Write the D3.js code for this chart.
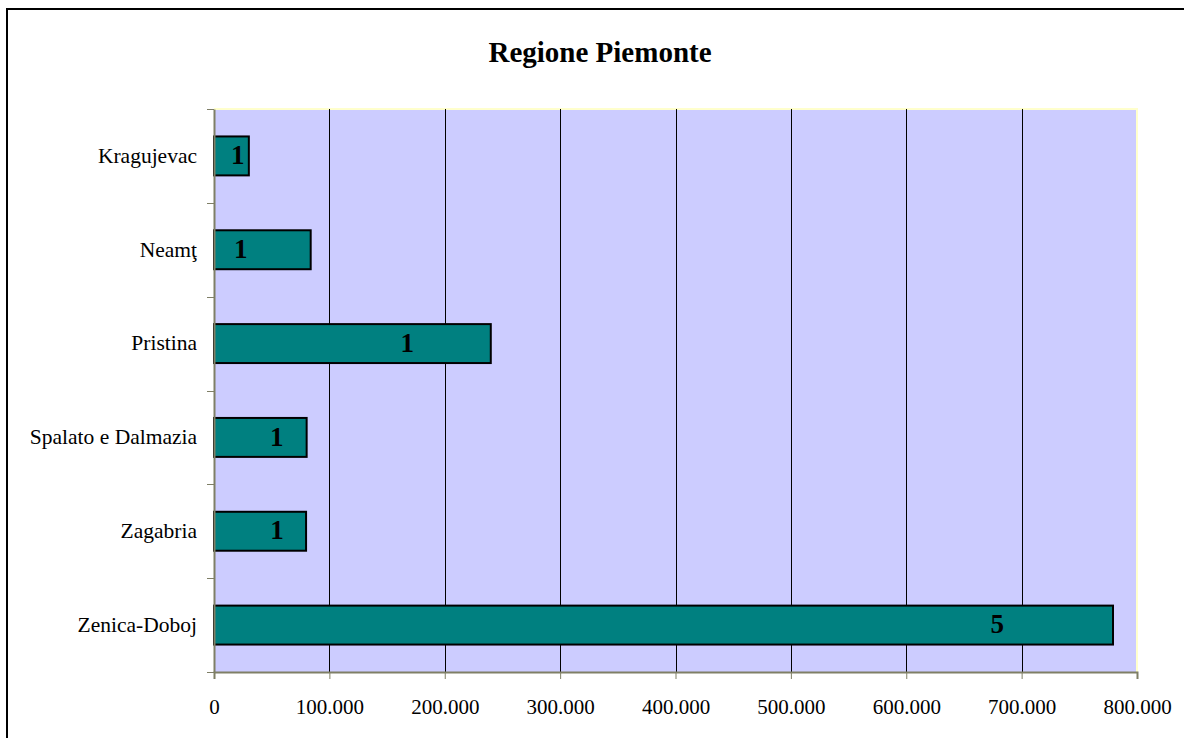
<!DOCTYPE html>
<html>
<head>
<meta charset="utf-8">
<script src="https://cdn.jsdelivr.net/npm/d3@7"></script>
<style>
  body { margin: 0; background: #fff; }
  text { font-family: "Liberation Serif", "Times New Roman", serif; }
</style>
</head>
<body>
<div id="svgWrapper"></div>
<script>
"use strict"
// data
const chartTitle = "Regione Piemonte";
const categories = ["Kragujevac", "Neamţ", "Pristina", "Spalato e Dalmazia", "Zagabria", "Zenica-Doboj"];
const amounts = [30200, 83800, 239900, 80300, 79800, 779200];
const counts = [1, 1, 1, 1, 1, 5];
// where the count labels sit along the value axis
const labelAt = [20500, 23100, 167600, 54400, 54600, 678900];
const xTicks = [0, 100000, 200000, 300000, 400000, 500000, 600000, 700000, 800000];

function draw() {
    var fullWidth = 1184;
    var fullHeight = 738;
    var svg = d3.select("#svgWrapper").append("svg")
        .attr("width", fullWidth).attr("height", fullHeight);

    var left = 214, right = 1137, top = 109, bottom = 672;

    // outer frame
    svg.append("rect")
        .attr("x", 7).attr("y", 9).attr("width", 1300).attr("height", 900)
        .attr("fill", "#fff").attr("stroke", "#000").attr("stroke-width", 2);

    svg.append("text")
        .attr("x", 600).attr("y", 62)
        .attr("text-anchor", "middle")
        .attr("font-weight", "bold")
        .attr("font-size", 29)
        .text(chartTitle);

    var x = d3.scaleLinear().domain([0, 800000]).range([left, right]);
    var y = d3.scaleBand().domain(categories).range([top, bottom])
        .paddingInner(0.585).paddingOuter(0.2925);
    var slots = d3.scaleLinear().domain([0, categories.length]).range([top, bottom]);

    // plot background
    svg.append("rect")
        .attr("x", left).attr("y", top)
        .attr("width", right - left).attr("height", bottom - top)
        .attr("fill", "#ccccff");
    svg.append("path")
        .attr("d", "M" + left + "," + top + "H" + right + "V" + bottom)
        .attr("fill", "none").attr("stroke", "#ffffcc").attr("stroke-width", 2);

    // gridlines
    svg.append("g").selectAll("line")
        .data(xTicks.slice(1, -1))
        .enter().append("line")
        .attr("x1", d => Math.round(x(d)) + 0.5).attr("x2", d => Math.round(x(d)) + 0.5)
        .attr("y1", top).attr("y2", bottom)
        .attr("stroke", "#000").attr("stroke-width", 1);

    // bars
    svg.append("g").selectAll("rect")
        .data(categories)
        .enter().append("rect")
        .attr("x", x(0))
        .attr("y", d => y(d))
        .attr("width", (d, i) => x(amounts[i]) - x(0))
        .attr("height", y.bandwidth())
        .attr("fill", "#008080")
        .attr("stroke", "#000")
        .attr("stroke-width", 2);

    // count labels
    svg.append("g").selectAll("text")
        .data(categories)
        .enter().append("text")
        .attr("x", (d, i) => x(labelAt[i]))
        .attr("y", d => y(d) + y.bandwidth() / 2)
        .attr("dy", "0.3em")
        .attr("text-anchor", "middle")
        .attr("font-weight", "bold")
        .attr("font-size", 27)
        .text((d, i) => counts[i]);

    var axisColor = "#7f7f66";
    var it = d3.formatLocale({decimal: ",", thousands: ".", grouping: [3], currency: ["", "€"]});

    // x axis
    var xAxis = d3.axisBottom(x).tickValues(xTicks).tickFormat(it.format(",")).tickSize(7).tickPadding(20);
    var gx = svg.append("g").attr("transform", "translate(0," + bottom + ")").call(xAxis);
    gx.select(".domain").attr("stroke", axisColor).attr("stroke-width", 2);
    gx.selectAll(".tick line").attr("stroke", axisColor);
    gx.selectAll(".tick text").attr("fill", "#000").attr("font-size", 21)
        .style("font-family", "'Liberation Serif', serif");

    // y axis: labels centred on bands, ticks between bands
    var yAxis = d3.axisLeft(y).tickSize(0).tickPadding(17);
    var gy = svg.append("g").attr("transform", "translate(" + left + ",0)").call(yAxis);
    gy.select(".domain").attr("stroke", axisColor).attr("stroke-width", 2);
    gy.selectAll(".tick text").attr("fill", "#000").attr("font-size", 21.5)
        .style("font-family", "'Liberation Serif', serif");

    svg.append("g").selectAll("line")
        .data(d3.range(categories.length + 1))
        .enter().append("line")
        .attr("x1", left - 7).attr("x2", left)
        .attr("y1", d => Math.round(slots(d)) + 0.5).attr("y2", d => Math.round(slots(d)) + 0.5)
        .attr("stroke", axisColor).attr("stroke-width", 1);
}

window.onload = draw;
</script>
</body>
</html>
